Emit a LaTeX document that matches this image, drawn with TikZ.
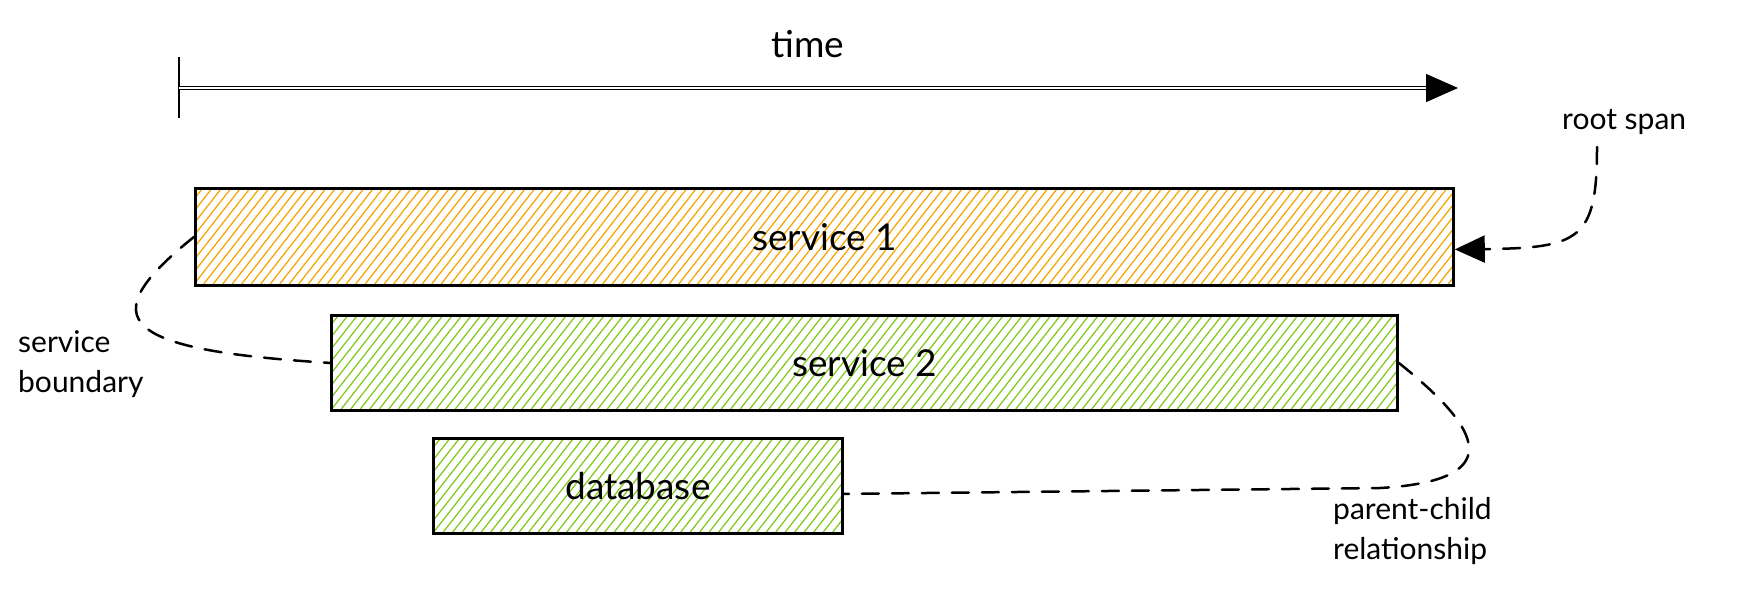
\documentclass[tikz,border=0pt]{standalone}
\usepackage{fontspec}
\setmainfont{Lato}
\usetikzlibrary{arrows.meta}
\definecolor{hatchorange}{HTML}{F5A500}
\definecolor{hatchgreen}{HTML}{82C91E}
\pgfdeclarelayer{background}
\pgfsetlayers{background,main}
\tikzset{
  spanbox/.style={draw=black, line width=2.8pt, anchor=north west, inner sep=0pt,
    font=\fontsize{37}{44}\selectfont},
  hatchline/.style={line width=1.25pt},
  note/.style={font=\fontsize{30}{40}\selectfont, align=left, inner sep=0pt},
  dashlink/.style={line width=2.5pt, dash pattern=on 17pt off 13pt, line cap=round},
  tip/.style={-{Triangle[length=30pt,width=27pt]}},
}
% #1 x0, #2 y0 (top), #3 width, #4 height, #5 colour
\newcommand{\hatchbox}[5]{%
  \begin{pgfonlayer}{background}
  \begin{scope}
    \clip (#1,#2) rectangle ({#1+#3},{#2+#4});
    \pgfmathtruncatemacro{\nlines}{(#3+#4/1.28)/9.5+1}
    \foreach \k in {0,...,\nlines} {
      \draw[hatchline, #5] ({#1-#4/1.28+9.5*\k},{#2+#4}) -- ++({#4/1.28},{-#4});
    }
  \end{scope}
  \end{pgfonlayer}}
\begin{document}
\begin{tikzpicture}[x=1pt,y=-1pt]
\useasboundingbox (0,0) rectangle (1740,590);
% time axis
\coordinate (tickA) at (179,57);
\coordinate (tickB) at (179,118);
\coordinate (t0) at (179,88);
\coordinate (t1) at (1458,88);
\draw[line width=2pt] (tickA) -- (tickB);
\draw[line width=1.4pt, double, double distance=1.8pt, -{Triangle[length=32pt,width=28pt]}] (t0) -- (t1);
\node[font=\fontsize{37}{44}\selectfont] (time) at (808,44) {time};
% spans
\hatchbox{194}{187}{1258}{97}{hatchorange}
\hatchbox{330}{314}{1066}{95}{hatchgreen}
\hatchbox{432}{437}{409}{95}{hatchgreen}
\node[spanbox, minimum width=1258pt, minimum height=97pt] (s1) at (194,187) {service 1};
\node[spanbox, minimum width=1066pt, minimum height=95pt] (s2) at (330,314) {service 2};
\node[spanbox, minimum width=409pt, minimum height=95pt] (db) at (432,437) {database};
% labels
\node[note, anchor=west] (root) at (1562,122) {root span};
\node[note, anchor=west] (sb) at (18,364) {service\\boundary};
\node[note, anchor=west] (pc) at (1333,531) {parent-child\\relationship};
% connectors
\coordinate (rs) at (1597,147);
\draw[dashlink, tip] (rs) .. controls (1597,240) and (1580,248) .. ([yshift=-12.5pt]s1.east);
\draw[dashlink] (s1.west) .. controls (90,320) and (120,350) .. (s2.west);
\draw[dashlink] (s2.east) .. controls (1470,420) and (1520,480) .. (1380,488) -- ([yshift=-8pt]db.east);
\end{tikzpicture}
\end{document}
